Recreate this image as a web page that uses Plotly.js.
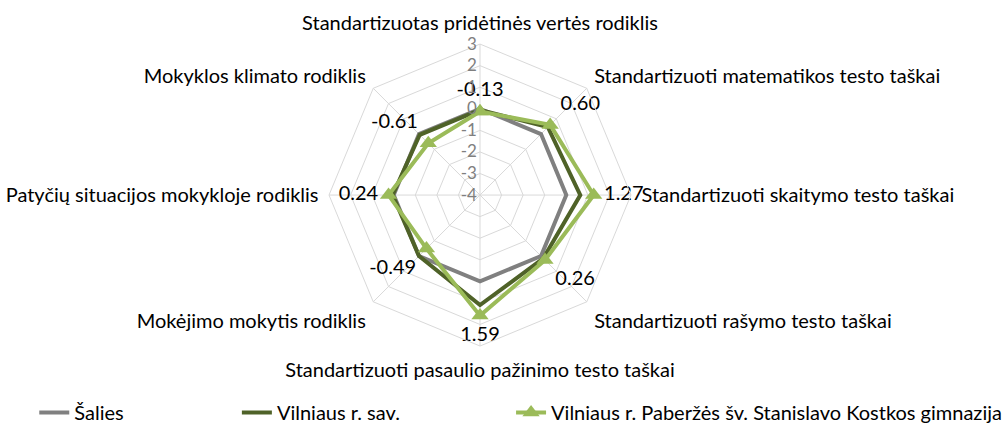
<!DOCTYPE html>
<html>
<head>
<meta charset="utf-8">
<script src="https://cdn.plot.ly/plotly-3.0.1.min.js"></script>
<style>html,body{margin:0;padding:0;background:#fff;}#chart{width:1008px;height:432px;}</style>
</head>
<body>
<div id="chart"></div>
<script>
const categories = [
  "Standartizuotas pridėtinės vertės rodiklis",
  "Standartizuoti matematikos testo taškai",
  "Standartizuoti skaitymo testo taškai",
  "Standartizuoti rašymo testo taškai",
  "Standartizuoti pasaulio pažinimo testo taškai",
  "Mokėjimo mokytis rodiklis",
  "Patyčių situacijos mokykloje rodiklis",
  "Mokyklos klimato rodiklis"
];
const seriesNames = ["Šalies", "Vilniaus r. sav.", "Vilniaus r. Paberžės šv. Stanislavo Kostkos gimnazija"];
const saliesValues = [0, 0, 0, 0, 0, 0, 0, 0];
const savivaldybeValues = [-0.05, 0.45, 0.65, 0.15, 1.1, 0.0, 0.05, -0.05];
const mokyklaValues = [-0.13, 0.60, 1.27, 0.26, 1.59, -0.49, 0.24, -0.61];
const radialTicks = [-4, -3, -2, -1, 0, 1, 2, 3];
const labelPositions = ["top center", "top right", "middle right", "bottom right", "bottom center", "bottom left", "middle left", "top left"];

const FONT = "Lato, 'Open Sans', sans-serif";
const FS = 20;
function closed(arr) { return arr.concat([arr[0]]); }

const traces = [
  {
    type: "scatterpolar", mode: "lines", name: seriesNames[0],
    r: closed(saliesValues), theta: closed(categories),
    line: {color: "#808080", width: 4}, legend: "legend"
  },
  {
    type: "scatterpolar", mode: "lines", name: seriesNames[1],
    r: closed(savivaldybeValues), theta: closed(categories),
    line: {color: "#4f6228", width: 4}, legend: "legend2"
  },
  {
    type: "scatterpolar", mode: "lines+markers+text", name: seriesNames[2],
    r: closed(mokyklaValues), theta: closed(categories),
    text: mokyklaValues.map(v => v.toFixed(2)).concat([""]),
    textposition: closed(labelPositions),
    textfont: {family: FONT, size: FS, color: "#000"},
    line: {color: "#9bbb59", width: 4},
    marker: {symbol: "triangle-up", size: 15, color: "#9bbb59"},
    cliponaxis: false,
    legend: "legend3"
  }
];

const legendBase = {orientation: "h", yanchor: "bottom", y: 0, xanchor: "left",
  font: {family: FONT, size: FS, color: "#000"}, bgcolor: "rgba(0,0,0,0)"};

const layout = {
  width: 1008, height: 432,
  margin: {l: 0, r: 0, t: 0, b: 0},
  paper_bgcolor: "#fff",
  font: {family: FONT, size: FS, color: "#000"},
  showlegend: true,
  legend: Object.assign({}, legendBase, {x: 0.034}),
  legend2: Object.assign({}, legendBase, {x: 0.235}),
  legend3: Object.assign({}, legendBase, {x: 0.507}),
  polar: {
    domain: {x: [0.3264, 0.626], y: [0.199, 0.898]},
    gridshape: "linear",
    bgcolor: "#fff",
    angularaxis: {
      direction: "clockwise", rotation: 90,
      showline: true, linecolor: "#d9d9d9", linewidth: 1,
      gridcolor: "#d9d9d9", gridwidth: 1,
      ticks: "outside", ticklen: 6, tickcolor: "rgba(0,0,0,0)",
      tickfont: {family: FONT, size: FS, color: "#000"}
    },
    radialaxis: {
      range: [-4, 3], angle: 90, tickangle: 90,
      tickvals: radialTicks, ticktext: radialTicks.map(String),
      showline: false, ticks: "",
      gridcolor: "#d9d9d9", gridwidth: 1,
      tickfont: {family: FONT, size: 17, color: "#7f7f7f"},
      side: "counterclockwise"
    }
  }
};

function unhidePoints() {
  // Plotly's polygon range test wrongly hides points when the radial range starts below zero;
  // the library has already positioned them, so only the display flag is cleared.
  document.querySelectorAll(".scatterlayer .points path, .scatterlayer .textpoint").forEach(el => {
    el.removeAttribute("display");
    el.style.display = "";
  });
}

Plotly.newPlot("chart", traces, layout, {displayModeBar: false, staticPlot: true}).then(unhidePoints);
</script>
</body>
</html>
